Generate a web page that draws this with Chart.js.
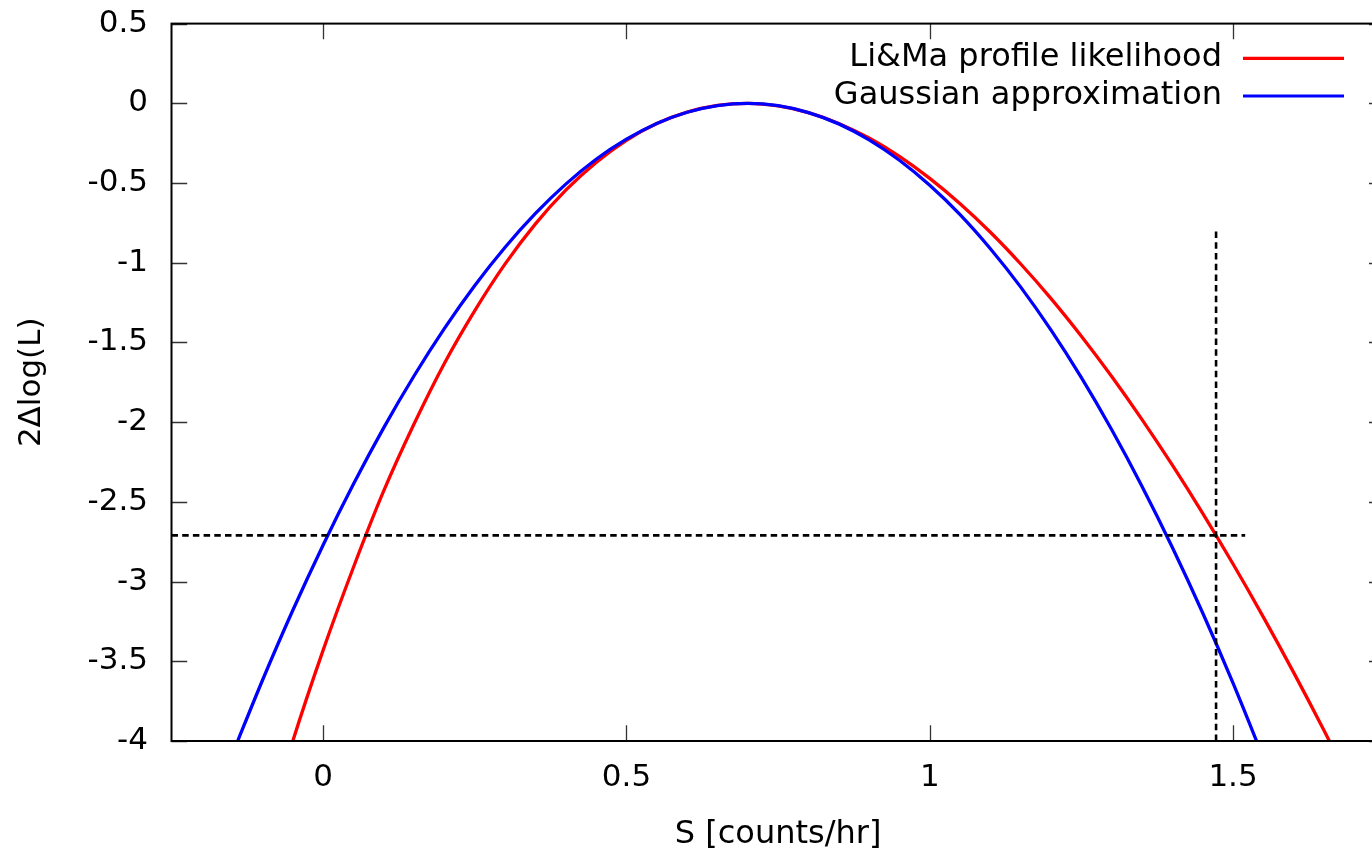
<!DOCTYPE html>
<html>
<head>
<meta charset="utf-8">
<script src="https://cdn.jsdelivr.net/npm/chart.js@4/dist/chart.umd.min.js"></script>
<style>
  html, body { margin: 0; padding: 0; background: #fff; overflow: hidden; }
  canvas { display: block; }
</style>
</head>
<body>
<canvas id="plot" width="1400" height="853"></canvas>
<script>
// Li&Ma profile likelihood, 2*delta log L versus source rate S
const liMaS = [-0.10, -0.05, 0.00, 0.05, 0.10, 0.15, 0.20, 0.25, 0.30, 0.35, 0.40, 0.45,
  0.50, 0.55, 0.60, 0.65, 0.70, 0.75, 0.80, 0.85, 0.90, 0.95, 1.00, 1.05, 1.10, 1.15,
  1.20, 1.25, 1.30, 1.35, 1.40, 1.45, 1.50, 1.55, 1.60, 1.65, 1.70];
const liMaLogL = [-4.64, -4.00, -3.43, -2.91, -2.43, -2.01, -1.63, -1.30, -1.007, -0.756,
  -0.545, -0.371, -0.232, -0.127, -0.055, -0.013, 0.000, -0.016, -0.058, -0.126, -0.218,
  -0.333, -0.471, -0.630, -0.809, -1.008, -1.225, -1.461, -1.714, -1.984, -2.270, -2.572,
  -2.890, -3.223, -3.571, -3.934, -4.311];

// Gaussian approximation of the same likelihood
const gaussS = [-0.15, -0.10, -0.05, 0.00, 0.05, 0.10, 0.15, 0.20, 0.25, 0.30, 0.35, 0.40,
  0.45, 0.50, 0.55, 0.60, 0.65, 0.70, 0.75, 0.80, 0.85, 0.90, 0.95, 1.00, 1.05, 1.10,
  1.15, 1.20, 1.25, 1.30, 1.35, 1.40, 1.45, 1.50, 1.55];
const gaussLogL = [-4.086, -3.619, -3.180, -2.770, -2.388, -2.034, -1.709, -1.412, -1.143,
  -0.903, -0.691, -0.507, -0.351, -0.225, -0.126, -0.056, -0.014, 0.000, -0.015, -0.058,
  -0.129, -0.229, -0.357, -0.514, -0.698, -0.912, -1.153, -1.423, -1.721, -2.048, -2.403,
  -2.786, -3.197, -3.637, -4.106];

// Upper-limit construction: level 2*dlogL = -2.71 and the resulting S
const levelLineS = [-0.25, 1.52];
const levelLineY = [-2.71, -2.71];
const limitLineS = [1.472, 1.472];
const limitLineY = [-4, -0.78];

// Axes
const xRange = [-0.25, 1.75];
const yRange = [-4, 0.5];
const xTicks = [0, 0.5, 1, 1.5];
const yTicks = [0.5, 0, -0.5, -1, -1.5, -2, -2.5, -3, -3.5, -4];
const xTitle = 'S [counts/hr]';
const yTitle = '2\u0394log(L)';
const seriesLabels = ['Li&Ma profile likelihood', 'Gaussian approximation'];
const seriesColors = ['#ff0000', '#0000ff'];

const toPoints = (xs, ys) => xs.map((x, i) => ({ x: x, y: ys[i] }));

Chart.defaults.font.family = "'DejaVu Sans', sans-serif";
Chart.defaults.color = '#000';

const TICK_LEN = 15.7;

// gnuplot-style frame with inward ticks on all four sides
const framePlugin = {
  id: 'frame',
  afterDatasetsDraw(chart) {
    const { ctx, chartArea: a, scales: { x, y } } = chart;
    ctx.save();
    ctx.strokeStyle = '#333';
    ctx.lineWidth = 1.3;
    ctx.beginPath();
    xTicks.forEach(v => {
      const px = Math.round(x.getPixelForValue(v)) + 0.5;
      ctx.moveTo(px, a.bottom); ctx.lineTo(px, a.bottom - TICK_LEN);
      ctx.moveTo(px, a.top); ctx.lineTo(px, a.top + TICK_LEN);
    });
    yTicks.forEach(v => {
      const py = Math.round(y.getPixelForValue(v)) + 0.5;
      ctx.moveTo(a.left, py); ctx.lineTo(a.left + TICK_LEN, py);
      ctx.moveTo(a.right, py); ctx.lineTo(a.right - TICK_LEN, py);
    });
    ctx.stroke();
    ctx.strokeStyle = '#000';
    ctx.lineWidth = 2;
    ctx.strokeRect(a.left, a.top, a.right - a.left, a.bottom - a.top);
    ctx.restore();
  }
};

// key in the upper right: label text, then a line sample to its right
const keyPlugin = {
  id: 'key',
  afterDraw(chart) {
    const { ctx, chartArea: a } = chart;
    const textRight = a.right - 162.7;
    const lineStart = a.right - 141.7;
    const lineEnd = a.right - 40.7;
    let rowY = a.top + 34.7;
    ctx.save();
    ctx.font = "32px 'DejaVu Sans'";
    ctx.textAlign = 'right';
    ctx.textBaseline = 'middle';
    chart.data.datasets.forEach(ds => {
      if (!ds.label) return;
      ctx.fillStyle = '#000';
      ctx.fillText(ds.label, textRight, rowY - 0.8);
      ctx.strokeStyle = ds.borderColor;
      ctx.lineWidth = 3.2;
      ctx.beginPath();
      ctx.moveTo(lineStart, rowY);
      ctx.lineTo(lineEnd, rowY);
      ctx.stroke();
      rowY += 37.7;
    });
    ctx.restore();
  }
};

new Chart(document.getElementById('plot'), {
  type: 'line',
  data: {
    datasets: [
      {
        label: seriesLabels[0],
        data: toPoints(liMaS, liMaLogL),
        borderColor: seriesColors[0],
        borderWidth: 3.3,
        pointRadius: 0,
        cubicInterpolationMode: 'monotone',
        clip: 0,
        order: 2
      },
      {
        label: seriesLabels[1],
        data: toPoints(gaussS, gaussLogL),
        borderColor: seriesColors[1],
        borderWidth: 3.3,
        pointRadius: 0,
        cubicInterpolationMode: 'monotone',
        clip: 0,
        order: 1
      },
      {
        label: '',
        data: toPoints(levelLineS, levelLineY),
        borderColor: '#000',
        borderWidth: 2.6,
        borderDash: [6.5, 4.2],
        pointRadius: 0,
        tension: 0,
        clip: 0,
        order: 0
      },
      {
        label: '',
        data: toPoints(limitLineS, limitLineY),
        borderColor: '#000',
        borderWidth: 2.6,
        borderDash: [6.5, 4.2],
        pointRadius: 0,
        tension: 0,
        clip: 0,
        order: 0
      }
    ]
  },
  options: {
    responsive: false,
    animation: false,
    devicePixelRatio: 1,
    layout: { autoPadding: false, padding: { top: 23.6, right: 15.3, left: 0, bottom: 0 } },
    plugins: { legend: { display: false }, tooltip: { enabled: false } },
    scales: {
      x: {
        type: 'linear',
        min: xRange[0],
        max: xRange[1],
        afterBuildTicks: s => { s.ticks = xTicks.map(v => ({ value: v })); },
        afterFit: s => { s.height = 112; s.paddingLeft = 0; s.paddingRight = 0; },
        grid: { display: false, drawTicks: false },
        border: { display: false },
        ticks: {
          autoSkip: false,
          maxRotation: 0,
          padding: 18.4,
          font: { size: 31 },
          callback: v => String(v)
        },
        title: {
          display: true,
          text: xTitle,
          font: { size: 32, lineHeight: 1.15 },
          padding: { top: 0, bottom: 0 }
        }
      },
      y: {
        type: 'linear',
        min: yRange[0],
        max: yRange[1],
        afterBuildTicks: s => { s.ticks = yTicks.map(v => ({ value: v })); },
        afterFit: s => { s.width = 171.5; s.paddingTop = 0; s.paddingBottom = 0; },
        grid: { display: false, drawTicks: false },
        border: { display: false },
        ticks: {
          autoSkip: false,
          padding: 23.5,
          font: { size: 31 },
          callback: v => String(v)
        },
        title: {
          display: true,
          text: yTitle,
          font: { size: 31, lineHeight: 1.2 },
          padding: { top: 13, bottom: 0 }
        }
      }
    }
  },
  plugins: [framePlugin, keyPlugin]
});
</script>
</body>
</html>
